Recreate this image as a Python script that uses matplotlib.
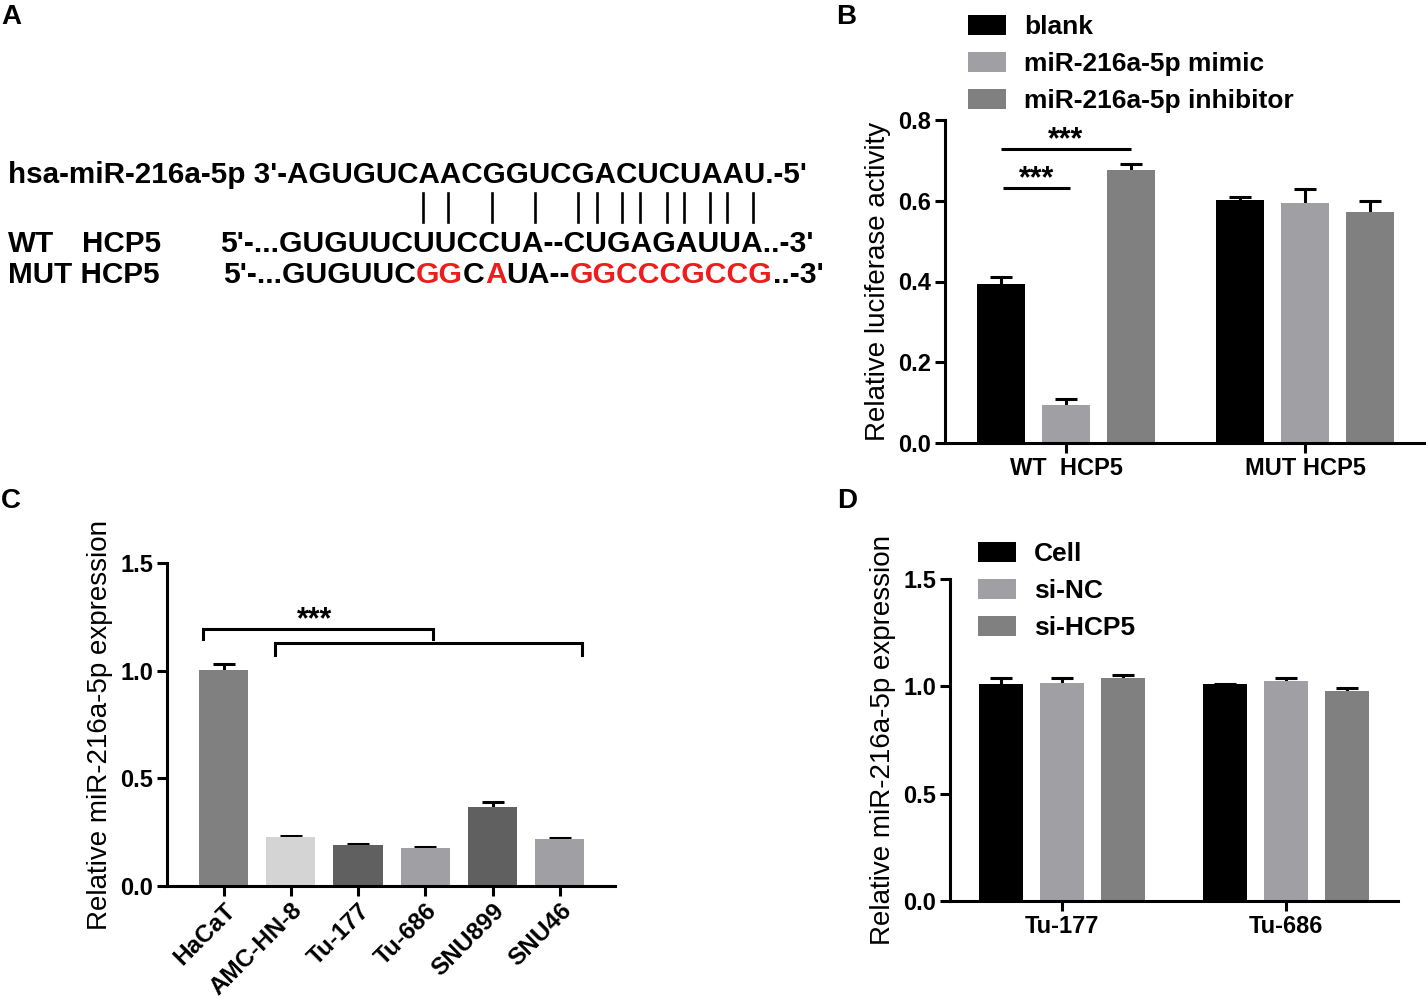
import matplotlib
matplotlib.use('Agg')
import matplotlib.pyplot as plt
import matplotlib.transforms as mtrans
from matplotlib.lines import Line2D
import numpy as np

plt.rcParams['font.family'] = ['Liberation Sans', 'DejaVu Sans']

# ---------------- data ----------------
groups_B = ['WT  HCP5', 'MUT HCP5']
series_B = ['blank', 'miR-216a-5p mimic', 'miR-216a-5p inhibitor']
values_B = [[0.393, 0.603], [0.095, 0.595], [0.675, 0.573]]
errors_B = [[0.017, 0.007], [0.015, 0.035], [0.015, 0.026]]
colors_B = ['#000000', '#a0a0a4', '#808080']
yticks_B = [0.0, 0.2, 0.4, 0.6, 0.8]

cells_C = ['HaCaT', 'AMC-HN-8', 'Tu-177', 'Tu-686', 'SNU899', 'SNU46']
values_C = [1.005, 0.228, 0.189, 0.178, 0.368, 0.217]
errors_C = [0.025, 0.006, 0.006, 0.005, 0.023, 0.006]
colors_C = ['#808080', '#d4d4d4', '#606060', '#a0a0a4', '#606060', '#a0a0a4']
yticks_C = [0.0, 0.5, 1.0, 1.5]

groups_D = ['Tu-177', 'Tu-686']
series_D = ['Cell', 'si-NC', 'si-HCP5']
values_D = [[1.009, 1.009], [1.017, 1.027], [1.039, 0.976]]
errors_D = [[0.032, 0.003], [0.024, 0.014], [0.012, 0.014]]
colors_D = ['#000000', '#a0a0a4', '#808080']
yticks_D = [0.0, 0.5, 1.0, 1.5]

mirna_line = "hsa-miR-216a-5p 3'-AGUGUCAACGGUCGACUCUAAU.-5'"
wt_seq = "5'-...GUGUUCUUCCUA--CUGAGAUUA..-3'"
mut_segments = [("5'-...GUGUUC", 'k'), ("GG", 'r'), ("C", 'k'), ("A", 'r'),
                ("UA--", 'k'), ("GGCCCGCCG", 'r'), ("..-3'", 'k')]
pair_x = [423, 448, 492, 535, 578, 597, 622, 640, 667, 684, 710, 727, 753]

# ---------------- figure ----------------
W, H = 1426, 1002
fig = plt.figure(figsize=(W / 100, H / 100), dpi=100)


def fx(x):
    return x / W


def fy(y):
    return 1 - y / H


def rect(l, t, r, b):
    return [l / W, 1 - b / H, (r - l) / W, (b - t) / H]


LW = 2.2
TICKFS = 17
REDC = '#ee1c1c'
STARFS = 22


def style(ax, ylabel, axw):
    for s in ['top', 'right']:
        ax.spines[s].set_visible(False)
    for s in ['left', 'bottom']:
        ax.spines[s].set_linewidth(LW)
    ax.tick_params(direction='out', length=7, width=LW, labelsize=TICKFS, pad=3)
    ax.set_ylabel(ylabel, fontsize=20)
    ax.yaxis.label.set_va('center')
    ax.yaxis.set_label_coords(-67 / axw, 0.5)


# ---- panel labels ----
for lab, x, y in [('A', 1, 24), ('B', 836, 24), ('C', 1, 508), ('D', 837, 508)]:
    fig.text(fx(x), fy(y), lab, fontsize=20, fontweight='bold', va='baseline', ha='left')

# ---- panel A ----
SEQFS = 21.3
SEQFS2 = 21.7
fig.text(fx(8), fy(183), mirna_line, fontsize=SEQFS, fontweight='bold', va='baseline')
fig.text(fx(8), fy(252), 'WT', fontsize=SEQFS, fontweight='bold', va='baseline')
fig.text(fx(82), fy(252), 'HCP5', fontsize=SEQFS, fontweight='bold', va='baseline')
fig.text(fx(220), fy(252), wt_seq, fontsize=SEQFS2, fontweight='bold', va='baseline')
fig.text(fx(8), fy(283), 'MUT HCP5', fontsize=SEQFS, fontweight='bold', va='baseline')
# chained multi-colour text
base = None
for seg, c in mut_segments:
    col = REDC if c == 'r' else 'black'
    if base is None:
        base = fig.text(fx(223), fy(283), seg, fontsize=SEQFS2, fontweight='bold',
                        va='baseline', color=col)
    else:
        base = fig.add_artist(plt.Annotation(seg, xy=(1, 0), xycoords=base,
                                             fontsize=SEQFS2, fontweight='bold',
                                             va='bottom', ha='left', color=col))
for x in pair_x:
    fig.add_artist(Line2D([fx(x), fx(x)], [fy(193), fy(222)], color='black', lw=1.9,
                          transform=fig.transFigure))

# ---- panel B ----
axB = fig.add_axes(rect(945, 120, 1424, 443))
style(axB, 'Relative luciferase activity', 1424 - 945)
xg = np.arange(len(groups_B))
offs = [-0.272, 0.0, 0.272]
for i, (name, vals, errs, col) in enumerate(zip(series_B, values_B, errors_B, colors_B)):
    xs = xg + offs[i]
    axB.bar(xs, vals, width=0.2, color=col, label=name, zorder=2)
    axB.errorbar(xs, vals, yerr=errs, fmt='none', ecolor='black', elinewidth=LW,
                 capsize=8, capthick=LW, zorder=1)
axB.set_xlim(-0.506, 1.498)
axB.set_ylim(0, 0.8)
axB.set_yticks(yticks_B, [f'{v:.1f}' for v in yticks_B], fontweight='bold')
axB.set_xticks(xg, groups_B, fontweight='bold')
# significance
for (x0, x1, y) in [(-0.272, 0.272, 0.728), (-0.264, 0.017, 0.632)]:
    axB.plot([x0, x1], [y, y], color='black', lw=LW, solid_capstyle='butt', clip_on=False)
    axB.text((x0 + x1) / 2, y + 0.002, '***', ha='center', va='baseline', fontsize=STARFS,
             fontweight='bold')
axB.legend(loc='upper left', bbox_to_anchor=(fx(968), fy(15)), bbox_transform=fig.transFigure,
           frameon=False, prop={'weight': 'bold', 'size': 19}, handlelength=1.44,
           handleheight=0.8, handletextpad=0.68, labelspacing=0.48, borderpad=0,
           borderaxespad=0)

# ---- panel C ----
axC = fig.add_axes(rect(167, 563, 615, 886))
style(axC, 'Relative miR-216a-5p expression', 615 - 167)
xc = np.arange(len(cells_C))
axC.bar(xc, values_C, width=0.73, color=colors_C, zorder=2)
axC.errorbar(xc, values_C, yerr=errors_C, fmt='none', ecolor='black', elinewidth=LW,
             capsize=8, capthick=LW, zorder=1)
axC.set_xlim(-0.84, 5.82)
axC.set_ylim(0, 1.5)
axC.set_yticks(yticks_C, [f'{v:.1f}' for v in yticks_C], fontweight='bold')
axC.set_xticks(xc, cells_C, fontweight='bold', fontsize=17.5, rotation=45, ha='right',
               va='top', rotation_mode='anchor')
off = mtrans.ScaledTranslation(0 / 100, 1 / 100, fig.dpi_scale_trans)
for lab in axC.get_xticklabels():
    lab.set_transform(lab.get_transform() + off)
for (x0, x1, yt, yb) in [(-0.30, 3.12, 1.194, 1.147), (0.76, 5.33, 1.129, 1.073)]:
    axC.plot([x0, x0, x1, x1], [yb, yt, yt, yb], color='black', lw=LW,
             solid_joinstyle='miter', clip_on=False)
axC.text(1.36, 1.198, '***', ha='center', va='baseline', fontsize=STARFS, fontweight='bold')

# ---- panel D ----
axD = fig.add_axes(rect(950, 579, 1398, 901))
style(axD, 'Relative miR-216a-5p expression', 1398 - 950)
xd = np.arange(len(groups_D))
for i, (name, vals, errs, col) in enumerate(zip(series_D, values_D, errors_D, colors_D)):
    xs = xd + offs[i]
    axD.bar(xs, vals, width=0.2, color=col, label=name, zorder=2)
    axD.errorbar(xs, vals, yerr=errs, fmt='none', ecolor='black', elinewidth=LW,
                 capsize=8, capthick=LW, zorder=1)
axD.set_xlim(-0.5, 1.5)
axD.set_ylim(0, 1.5)
axD.set_yticks(yticks_D, [f'{v:.1f}' for v in yticks_D], fontweight='bold')
axD.set_xticks(xd, groups_D, fontweight='bold')
axD.legend(loc='upper left', bbox_to_anchor=(fx(978), fy(542)), bbox_transform=fig.transFigure,
           frameon=False, prop={'weight': 'bold', 'size': 19}, handlelength=1.44,
           handleheight=0.8, handletextpad=0.68, labelspacing=0.48, borderpad=0,
           borderaxespad=0)

fig.savefig('out.png', dpi=100)
